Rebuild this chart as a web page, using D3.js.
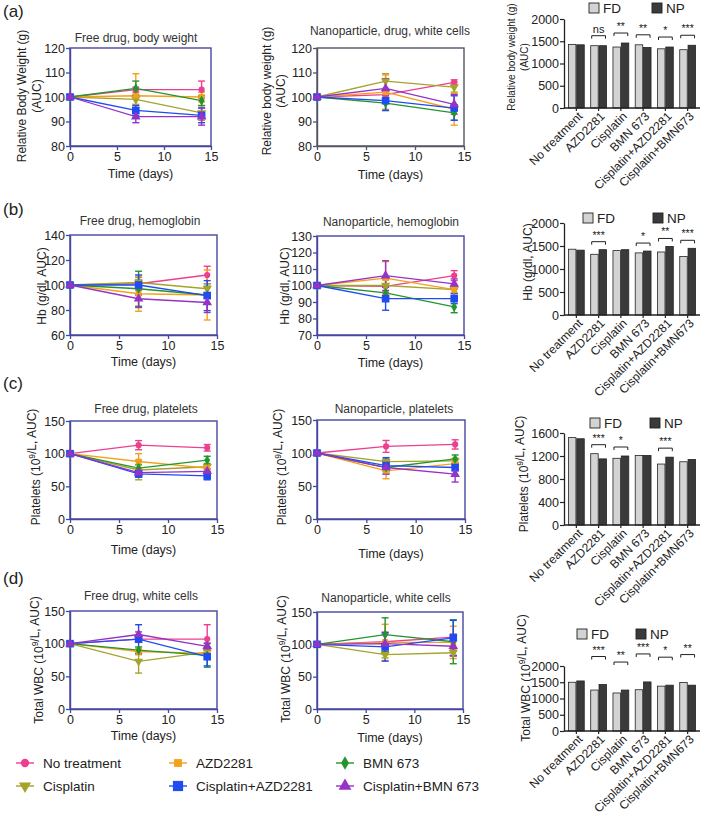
<!DOCTYPE html>
<html><head><meta charset="utf-8">
<script src="https://cdn.jsdelivr.net/npm/d3@7"></script>
<style>body{margin:0;background:#fff} svg{display:block;font-family:"Liberation Sans",Arial,sans-serif}</style>
</head><body><svg id="c" width="709" height="816"></svg>
<script>
// ---------- DATA ----------
const days = [0, 7, 14];
const timeTicks = [0, 5, 10, 15];
const seriesNames = ["No treatment","AZD2281","BMN 673","Cisplatin","Cisplatin+AZD2281","Cisplatin+BMN 673"];

// series order: No treatment, AZD2281, BMN 673, Cisplatin, Cisplatin+AZD2281, Cisplatin+BMN 673
const fdBodyWeight    = [[100,103,103],[100,100.5,100],[100,103.5,98.5],[100,99,93.5],[100,94.5,92.5],[100,92,92]];
const fdBodyWeightErr = [[0,1,3.5],[0,9,2],[0,3,2],[0,2,3],[0,2,3],[0,2.5,3.5]];
const npBodyWeight    = [[100,101,106],[100,102,95],[100,97.5,93.5],[100,106.5,104],[100,98.5,95.5],[100,103.5,97]];
const npBodyWeightErr = [[0,1.5,1],[0,7,6.5],[0,3,3],[0,3,2],[0,4,5],[0,4,4]];

const fdHb    = [[100,101,108],[100,93,92],[100,97,92],[100,102,97],[100,100,91.5],[100,89,86]];
const fdHbErr = [[0,3,7],[0,14,20],[0,14,7],[0,4,4],[0,8,12],[0,7,8]];
const npHb    = [[100,99.5,106],[100,104.5,97.5],[100,95.5,87],[100,100,97.5],[100,92,92],[100,106,101]];
const npHbErr = [[0,4,3],[0,10,2],[0,3.5,3.5],[0,4,2],[0,7,3],[0,9,3]];

const fdPlt    = [[100,113,109],[100,88,78],[100,78,90],[100,75,80],[100,69,66],[100,71,73]];
const fdPltErr = [[0,7,5],[0,12,5],[0,5,6],[0,15,5],[0,5,6],[0,4,4]];
const npPlt    = [[100,110,113],[100,73,84],[100,78,91],[100,87,88],[100,81,78],[100,78,68]];
const npPltErr = [[0,9,7],[0,12,4],[0,6,6],[0,5,4],[0,12,5],[0,10,12]];

const fdWbc    = [[100,107,107],[100,88,85],[100,90,82],[100,73,87],[100,107,80],[100,114,96]];
const fdWbcErr = [[0,5,22],[0,5,5],[0,5,18],[0,18,5],[0,22,14],[0,4,5]];
const npWbc    = [[100,104,111],[100,103,103],[100,115,104],[100,84,87],[100,96,110],[100,101,97]];
const npWbcErr = [[0,15,5],[0,28,25],[0,26,34],[0,5,5],[0,22,27],[0,15,15]];

const barCategories = ["No treatment","AZD2281","Cisplatin","BMN 673","Cisplatin+AZD2281","Cisplatin+BMN673"];
const bwFD  = [1430,1400,1370,1420,1330,1310];
const bwNP  = [1420,1400,1460,1360,1370,1410];
const bwSig = ["","ns","**","**","*","***"];
const hbFD  = [1430,1320,1400,1350,1370,1270];
const hbNP  = [1410,1420,1420,1390,1490,1450];
const hbSig = ["","***","","*","**","***"];
const pltFD = [1520,1240,1160,1210,1060,1100];
const pltNP = [1500,1150,1200,1210,1180,1140];
const pltSig= ["","***","*","","***",""];
const wbcFD = [1500,1260,1170,1270,1380,1490];
const wbcNP = [1540,1430,1260,1510,1410,1410];
const wbcSig= ["","***","**","***","*","**"];

const bwTicks = [80,90,100,110,120];
const hbTicks = [60,80,100,120,140];
const npHbTicks = [70,80,90,100,110,120,130];
const cellTicks = [0,50,100,150];
const barTicks2000 = [0,500,1000,1500,2000];
const barTicks1600 = [0,400,800,1200,1600];

// ---------- STYLE ----------
const seriesColors = ["#ec3f8d","#f5a01c","#22962d","#a5a32b","#1f4cf0","#9433c6"];
const seriesSymbols = [d3.symbolCircle,d3.symbolSquare,d3.symbolDiamond,d3.symbolTriangle,d3.symbolSquare,d3.symbolTriangle];
const seriesSizes = [30,34,30,36,58,40];
const seriesRot = [0,0,0,180,0,0];
const drawOrder = [0,3,1,2,4,5];
const svg = d3.select("#c");
const TXT = "#222";

function sym(g, i, cx, cy, scale=1){
  g.append("path")
    .attr("d", d3.symbol().type(seriesSymbols[i]).size(seriesSizes[i]*scale)())
    .attr("transform", `translate(${cx},${cy}) rotate(${seriesRot[i]})`)
    .attr("fill", seriesColors[i]);
}

function rotTitle(x, cy, parts, size=12){
  const t = svg.append("text").attr("transform",`translate(${x},${cy}) rotate(-90)`)
    .attr("text-anchor","middle").attr("dominant-baseline","central")
    .attr("font-size",size).attr("fill",TXT);
  parts.forEach(p=>{
    if (p.sup) { t.append("tspan").attr("dy",-4).attr("font-size",size*0.7).text(p.t); t.append("tspan").attr("dy",4).text(""); }
    else t.append("tspan").text(p.t);
  });
}

function linePanel(p){
  const x = d3.scaleLinear().domain([0,15]).range([p.x0,p.x1]);
  const y = d3.scaleLinear().domain([p.ticks[0],p.ticks[p.ticks.length-1]]).range([p.y1,p.y0]);
  const g = svg.append("g");
  g.append("rect").attr("x",p.x0).attr("y",p.y0).attr("width",p.x1-p.x0).attr("height",p.y1-p.y0)
    .attr("fill","none").attr("stroke",p.frame).attr("stroke-width",1.4);
  const ax = g.append("g").attr("transform",`translate(0,${p.y1})`)
    .call(d3.axisBottom(x).tickValues(timeTicks).tickSize(4).tickSizeOuter(0).tickPadding(2));
  const ay = g.append("g").attr("transform",`translate(${p.x0},0)`)
    .call(d3.axisLeft(y).tickValues(p.ticks).tickSize(4).tickSizeOuter(0).tickPadding(1));
  [ax,ay].forEach(a=>{
    a.select(".domain").attr("stroke",p.frame).attr("stroke-width",1.4);
    a.selectAll(".tick line").attr("stroke",p.frame).attr("stroke-width",1.3);
    a.selectAll("text").attr("font-size",12.5).attr("fill",TXT).attr("font-family","Liberation Sans, Arial, sans-serif");
  });
  const line = d3.line().x((d,k)=>x(days[k])).y(d=>y(d));
  drawOrder.forEach(i=>{
    g.append("path").attr("d",line(p.data[i])).attr("fill","none")
      .attr("stroke",seriesColors[i]).attr("stroke-width",1.3);
  });
  drawOrder.forEach(i=>{
    p.data[i].forEach((v,k)=>{
      const e = p.err[i][k]; if(!e) return;
      const cx = x(days[k]);
      g.append("line").attr("x1",cx).attr("x2",cx).attr("y1",y(v-e)).attr("y2",y(v+e)).attr("stroke",seriesColors[i]).attr("stroke-width",1.4);
      [v-e,v+e].forEach(w=>g.append("line").attr("x1",cx-3.5).attr("x2",cx+3.5).attr("y1",y(w)).attr("y2",y(w)).attr("stroke",seriesColors[i]).attr("stroke-width",1.4));
    });
  });
  drawOrder.forEach(i=>{
    p.data[i].forEach((v,k)=>sym(g,i,x(days[k]),y(v)));
  });
  svg.append("text").attr("x",p.tx).attr("y",p.ty).attr("text-anchor","middle").attr("font-size",12).attr("fill","#333").text(p.title);
  svg.append("text").attr("x",(p.x0+p.x1)/2).attr("y",p.xty).attr("text-anchor","middle").attr("font-size",12.5).attr("fill",TXT).text("Time (days)");
  p.yt.forEach(l=>rotTitle(l.x,p.ycy,l.parts,12));
}

function barPanel(p){
  const x = d3.scaleBand().domain(barCategories).range([p.x0,p.x1]).paddingInner(0.29).paddingOuter(0.2);
  const xi = d3.scaleBand().domain(["FD","NP"]).range([0,x.bandwidth()]).paddingInner(0.1);
  const y = d3.scaleLinear().domain([0,p.ticks[p.ticks.length-1]]).range([p.y1,p.y0]);
  const g = svg.append("g");
  barCategories.forEach((c,k)=>{
    [["FD",p.fd[k],"#d3d3d3"],["NP",p.np[k],"#3a3a3a"]].forEach(([s,v,f])=>{
      g.append("rect").attr("x",x(c)+xi(s)).attr("y",y(v)).attr("width",xi.bandwidth()).attr("height",y(0)-y(v))
        .attr("fill",f).attr("stroke","#222").attr("stroke-width",0.8);
    });
    if (p.sig[k]){
      const top = y(Math.max(p.fd[k],p.np[k])) - p.boff;
      const xa = x(c)+1, xb = x(c)+x.bandwidth()-1;
      g.append("path").attr("d",`M${xa},${top+3}V${top}H${xb}V${top+3}`).attr("fill","none").attr("stroke","#222").attr("stroke-width",1);
      g.append("text").attr("x",(xa+xb)/2).attr("y",top-3).attr("text-anchor","middle").attr("font-size",p.sig[k]==="ns"?11:10.5).attr("fill",TXT).text(p.sig[k]);
    }
  });
  const ay = g.append("g").attr("transform",`translate(${p.x0},0)`)
    .call(d3.axisLeft(y).tickValues(p.ticks).tickFormat(d3.format("d")).tickSize(4).tickSizeOuter(0).tickPadding(1));
  const ax = g.append("g").attr("transform",`translate(0,${p.y1})`)
    .call(d3.axisBottom(x).tickSize(3).tickSizeOuter(0).tickFormat(""));
  ax.select(".domain").attr("d",`M${p.x0},0H${p.x1}`);
  [ax,ay].forEach(a=>{
    a.select(".domain").attr("stroke","#222").attr("stroke-width",1.3);
    a.selectAll(".tick line").attr("stroke","#222").attr("stroke-width",1.2);
    a.selectAll("text").attr("font-size",12.5).attr("fill",TXT).attr("font-family","Liberation Sans, Arial, sans-serif");
  });
  barCategories.forEach(c=>{
    svg.append("text").attr("transform",`translate(${x(c)+x.bandwidth()/2+4},${p.y1+6}) rotate(-45)`)
      .attr("text-anchor","end").attr("dy","0.35em").attr("font-size",12).attr("fill",TXT).text(c);
  });
  // legend
  [["FD","#d3d3d3",p.lfd],["NP","#3a3a3a",p.lnp]].forEach(([s,f,lx])=>{
    svg.append("rect").attr("x",lx).attr("y",p.ly).attr("width",10).attr("height",10).attr("fill",f).attr("stroke","#222").attr("stroke-width",0.9);
    svg.append("text").attr("x",lx+14).attr("y",p.ly+10).attr("font-size",13.5).attr("fill",TXT).text(s);
  });
  p.yt.forEach(l=>rotTitle(l.x,p.ycy,l.parts,p.yfs||12));
}

// ---------- PANEL LABELS ----------
[["(a)",17],["(b)",215],["(c)",389],["(d)",584]].forEach(([t,yy])=>
  svg.append("text").attr("x",3).attr("y",yy).attr("font-size",17).attr("fill",TXT).text(t));

const FR = "#4646a0";
const sup9 = (a,b)=>[{t:a},{t:"9",sup:true},{t:b}];

// Row a
linePanel({data:fdBodyWeight,err:fdBodyWeightErr,ticks:bwTicks,x0:70,x1:211,y0:48,y1:146,frame:FR,
  title:"Free drug, body weight",tx:136,ty:42,xty:178,ycy:96,
  yt:[{x:22,parts:[{t:"Relative Body Weight (g)"}]},{x:37,parts:[{t:"(AUC)"}]}]});
linePanel({data:npBodyWeight,err:npBodyWeightErr,ticks:bwTicks,x0:317,x1:464,y0:48,y1:146,frame:"#555566",
  title:"Nanoparticle, drug, white cells",tx:390,ty:35,xty:179,ycy:91,
  yt:[{x:267,parts:[{t:"Relative body weight (g)"}]},{x:281,parts:[{t:"(AUC)"}]}]});
barPanel({fd:bwFD,np:bwNP,sig:bwSig,ticks:barTicks2000,x0:564,x1:700,y0:19,y1:108,boff:10,yfs:10,
  lfd:589,lnp:652,ly:3,ycy:57,yt:[{x:511,parts:[{t:"Relative body weight (g)"}]},{x:524,parts:[{t:"(AUC)"}]}]});

// Row b
linePanel({data:fdHb,err:fdHbErr,ticks:hbTicks,x0:70,x1:217,y0:235,y1:335,frame:FR,
  title:"Free drug, hemoglobin",tx:140,ty:225,xty:366,ycy:286,
  yt:[{x:42,parts:[{t:"Hb (g/dl, AUC)"}]}]});
linePanel({data:npHb,err:npHbErr,ticks:npHbTicks,x0:317,x1:464,y0:236,y1:335,frame:FR,
  title:"Nanoparticle, hemoglobin",tx:391,ty:226,xty:367,ycy:286,
  yt:[{x:285,parts:[{t:"Hb (g/dl, AUC)"}]}]});
barPanel({fd:hbFD,np:hbNP,sig:hbSig,ticks:barTicks2000,x0:564,x1:700,y0:223,y1:315,boff:8,
  lfd:583,lnp:653,ly:213,ycy:262,yt:[{x:528,parts:[{t:"Hb (g/dl, AUC)"}]}]});

// Row c
linePanel({data:fdPlt,err:fdPltErr,ticks:cellTicks,x0:70,x1:217,y0:421,y1:519,frame:FR,
  title:"Free drug, platelets",tx:146,ty:413,xty:554,ycy:467,
  yt:[{x:36,parts:sup9("Platelets (10","/L, AUC)")}]});
linePanel({data:npPlt,err:npPltErr,ticks:cellTicks,x0:317,x1:465,y0:420,y1:519,frame:FR,
  title:"Nanoparticle, platelets",tx:394,ty:413,xty:558,ycy:467,
  yt:[{x:282,parts:sup9("Platelets (10","/L, AUC)")}]});
barPanel({fd:pltFD,np:pltNP,sig:pltSig,ticks:barTicks1600,x0:564,x1:700,y0:433,y1:525,boff:9,
  lfd:590,lnp:650,ly:418,ycy:474,yt:[{x:524,parts:sup9("Platelets (10","/L, AUC)")}]});

// Row d
linePanel({data:fdWbc,err:fdWbcErr,ticks:cellTicks,x0:70,x1:217,y0:611,y1:709,frame:FR,
  title:"Free drug, white cells",tx:141,ty:600,xty:740,ycy:660,
  yt:[{x:39,parts:sup9("Total WBC (10","/L, AUC)")}]});
linePanel({data:npWbc,err:npWbcErr,ticks:cellTicks,x0:317,x1:463,y0:612,y1:709,frame:FR,
  title:"Nanoparticle, white cells",tx:386,ty:602,xty:742,ycy:659,
  yt:[{x:286,parts:sup9("Total WBC (10","/L, AUC)")}]});
barPanel({fd:wbcFD,np:wbcNP,sig:wbcSig,ticks:barTicks2000,x0:564,x1:700,y0:666,y1:731,boff:28,
  lfd:577,lnp:636,ly:629,ycy:678,yt:[{x:526,parts:sup9("Total WBC (10","/L, AUC)")}]});

// ---------- BOTTOM LEGEND ----------
const legX = [25,178,345], legY = [763,786];
seriesNames.forEach((n,i)=>{
  const cx = legX[i%3], cy = legY[Math.floor(i/3)];
  svg.append("line").attr("x1",cx-9).attr("x2",cx+9).attr("y1",cy).attr("y2",cy).attr("stroke",seriesColors[i]).attr("stroke-width",1.4);
  sym(svg,i,cx,cy,1.8);
  svg.append("text").attr("x",cx+18).attr("y",cy).attr("dy","0.35em").attr("font-size",13.5).attr("fill",TXT).text(n);
});
</script></body></html>
